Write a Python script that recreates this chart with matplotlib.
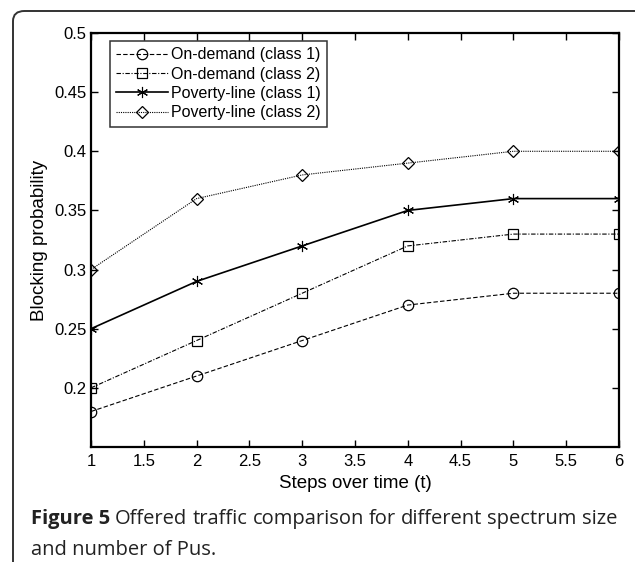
import matplotlib
matplotlib.use("Agg")
import matplotlib.pyplot as plt
from matplotlib.patches import FancyBboxPatch

steps = [1, 2, 3, 4, 5, 6]
od_class1 = [0.18, 0.21, 0.24, 0.27, 0.28, 0.28]
od_class2 = [0.20, 0.24, 0.28, 0.32, 0.33, 0.33]
pl_class1 = [0.25, 0.29, 0.32, 0.35, 0.36, 0.36]
pl_class2 = [0.30, 0.36, 0.38, 0.39, 0.40, 0.40]
labels = ['On-demand (class 1)', 'On-demand (class 2)',
          'Poverty-line (class 1)', 'Poverty-line (class 2)']
xticks = [1, 1.5, 2, 2.5, 3, 3.5, 4, 4.5, 5, 5.5, 6]
yticks = [0.2, 0.25, 0.3, 0.35, 0.4, 0.45, 0.5]
caption_bold = 'Figure 5'
caption_line1 = 'Offered traffic comparison for different spectrum size'
caption_line2 = 'and number of Pus.'

plt.rcParams['font.family'] = ['Liberation Sans', 'DejaVu Sans']

W, H = 635, 562
fig = plt.figure(figsize=(W / 100, H / 100), dpi=100)

# rounded frame around the figure (runs off the right and bottom edges)
frame = FancyBboxPatch((13 / W, -0.1), 1.2, 1 - 11 / H + 0.1,
                       boxstyle="round,pad=0,rounding_size=0.018",
                       transform=fig.transFigure, fill=False,
                       edgecolor='#333333', linewidth=1.4)
fig.patches.append(frame)

ax = fig.add_axes([91 / W, 1 - 447 / H, (619 - 91) / W, (447 - 33) / H])
ax.plot(steps, od_class1, color='k', ls=(0, (4, 2)), marker='o', mfc='none',
        ms=7.5, lw=0.8, mew=0.9, label=labels[0])
ax.plot(steps, od_class2, color='k', ls=(0, (4, 1.5, 1, 1.5)), marker='s', mfc='none',
        ms=7.5, lw=0.8, mew=0.9, label=labels[1])
ax.plot(steps, pl_class1, color='k', ls='-', marker=(6, 2, 0), ms=8,
        lw=1.2, mew=0.8, label=labels[2])
ax.plot(steps, pl_class2, color='k', ls=(0, (1, 1)), marker='D', mfc='none',
        ms=6, lw=0.8, mew=0.9, label=labels[3])

ax.set_xlim(1, 6)
ax.set_ylim(0.15, 0.5)
ax.set_xticks(xticks)
ax.set_xticklabels([f'{t:g}' for t in xticks])
ax.set_yticks(yticks)
ax.set_yticklabels([f'{t:g}' for t in yticks])
ax.tick_params(direction='in', length=5, labelsize=12, top=True, right=True, width=1)
ax.tick_params(axis='x', pad=5)
ax.tick_params(axis='y', pad=3)
for s in ax.spines.values():
    s.set_linewidth(1.6)
ax.set_xlabel('Steps over time (t)', fontsize=13.5)
ax.set_ylabel('Blocking probability', fontsize=13.5)
ax.xaxis.set_label_coords(0.5, -0.068)
ax.yaxis.set_label_coords(-0.082, 0.5)

leg = ax.legend(loc='upper left', bbox_to_anchor=(0.036, 0.981), fontsize=11.5,
                frameon=True, fancybox=False, edgecolor='black', handlelength=3.2,
                borderpad=0.4, labelspacing=0.27, handletextpad=0.2,
                borderaxespad=0)
leg.get_frame().set_linewidth(1.1)

# caption, first line justified between x=31 and x=617
fig.canvas.draw()
r = fig.canvas.get_renderer()
cap_kw = dict(fontsize=14.5, family='Open Sans', va='baseline', color='#222222')
words = [(caption_bold, 'bold')] + [(w, 'normal') for w in caption_line1.split()]
items = []
total = 0
for w, weight in words:
    t = fig.text(0, 0, w, fontweight=weight, **cap_kw)
    wpx = t.get_window_extent(renderer=r).width
    items.append((t, wpx))
    total += wpx
left, right = 31, 617
gap = (right - left - total) / (len(items) - 1)
x = left
for t, wpx in items:
    t.set_position((x / W, 1 - 524 / H))
    x += wpx + gap
fig.text(left / W, 1 - 555 / H, caption_line2, **cap_kw)

fig.savefig('out.png', dpi=100)
